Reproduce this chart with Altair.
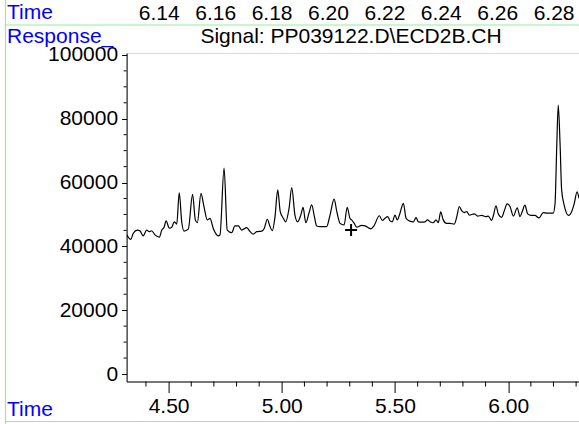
import altair as alt
import pandas as pd

# --- data ---
time_min = [4.315, 4.333, 4.344, 4.362, 4.374, 4.388, 4.403, 4.415, 4.425, 4.440,
            4.459, 4.470, 4.480, 4.489, 4.503, 4.514, 4.525, 4.536, 4.547, 4.558,
            4.568, 4.587, 4.606, 4.618, 4.627, 4.643, 4.656, 4.671, 4.683, 4.697,
            4.720, 4.727, 4.745, 4.759, 4.779, 4.793, 4.808, 4.823, 4.845, 4.860,
            4.874, 4.889, 4.911, 4.923, 4.936, 4.948, 4.958, 4.970, 4.982, 4.993,
            5.007, 5.017, 5.032, 5.044, 5.058, 5.070, 5.084, 5.094, 5.106, 5.120,
            5.132, 5.144, 5.154, 5.169, 5.183, 5.198, 5.213, 5.231, 5.243, 5.257,
            5.275, 5.289, 5.301, 5.311, 5.320, 5.331, 5.353, 5.368, 5.393, 5.407,
            5.431, 5.444, 5.456, 5.468, 5.478, 5.488, 5.500, 5.510, 5.522, 5.537,
            5.549, 5.563, 5.581, 5.593, 5.603, 5.618, 5.633, 5.643, 5.655, 5.669,
            5.681, 5.691, 5.702, 5.713, 5.728, 5.743, 5.762, 5.773, 5.784, 5.795,
            5.806, 5.817, 5.828, 5.850, 5.865, 5.883, 5.901, 5.912, 5.927, 5.934,
            5.946, 5.956, 5.971, 5.983, 5.995, 6.008, 6.023, 6.040, 6.052, 6.062,
            6.074, 6.086, 6.101, 6.118, 6.136, 6.155, 6.170, 6.185, 6.199, 6.207,
            6.214, 6.221, 6.229, 6.236, 6.247, 6.266, 6.277, 6.292, 6.304, 6.313]
response = [43600, 42200, 44100, 45100, 44800, 43300, 45100, 44600, 44900, 43600,
            42900, 45100, 46000, 48000, 45700, 46000, 47700, 47000, 56800, 47700,
            44800, 45400, 56300, 48300, 47400, 56600, 52500, 48300, 48800, 45700,
            43300, 43600, 64500, 45100, 44300, 46400, 46400, 45100, 45900, 44600,
            43800, 44600, 44800, 45700, 48500, 46200, 44900, 49300, 57700, 50900,
            48800, 47700, 51900, 58400, 49800, 47700, 49800, 52200, 47400, 50400,
            53000, 49300, 46400, 46200, 46200, 46200, 49800, 54800, 50900, 47200,
            46700, 52200, 48800, 48100, 47200, 46000, 46600, 46400, 45500, 46400,
            49600, 48100, 48800, 49300, 48000, 47700, 49800, 48300, 50400, 53500,
            48800, 48000, 47700, 49000, 47700, 47600, 47700, 48300, 47700, 47400,
            48300, 47400, 50800, 48300, 47200, 47200, 47000, 49300, 52500, 51100,
            50600, 50900, 49800, 50200, 49500, 49700, 49300, 49500, 48100, 49500,
            52700, 50200, 49100, 51200, 53300, 52500, 49500, 52100, 49300, 50900,
            52900, 50200, 49700, 49700, 48900, 50600, 50400, 50400, 50400, 53500,
            70200, 84300, 72300, 57700, 53000, 49700, 50400, 53500, 57100, 55000]

cursor_time = [5.306]
cursor_resp = [45100]

x_major = [4.5, 5.0, 5.5, 6.0]
x_minor = [4.4, 4.6, 4.7, 4.8, 4.9, 5.1, 5.2, 5.3, 5.4, 5.6, 5.7, 5.8, 5.9, 6.1, 6.2, 6.3]
y_major = [0, 20000, 40000, 60000, 80000, 100000]
y_minor = [v for v in range(0, 100001, 5000) if v % 20000 != 0]
top_ticks = [6.14, 6.16, 6.18, 6.20, 6.22, 6.24, 6.26, 6.28]

title_text = "Signal: PP039122.D\\ECD2B.CH"

FONT = "Liberation Sans"
FS = 21
W, H = 452.4, 328.5
X_DOM = [4.3145, 6.3127]
Y_DOM = [-2350, 100600]
TOP_DOM = [6.1286, 6.2890]
BLUE = "#0000ff"
GREEN = "#98ec98"

trace = pd.DataFrame({"t": time_min, "r": response})
cursor = pd.DataFrame({"t": cursor_time, "r": cursor_resp})
xminor_df = pd.DataFrame({"t": x_minor})
yminor_df = pd.DataFrame({"r": y_minor})
one = pd.DataFrame({"k": [0]})

xs = alt.Scale(domain=X_DOM, nice=False, zero=False)
ys = alt.Scale(domain=Y_DOM, nice=False, zero=False)

x_axis = alt.Axis(
    values=x_major,
    format=".2f",
    tickSize=11,
    labelOverlap=False,
    labelPadding=3,
    grid=False,
    title=None,
    domainColor="black",
    tickColor="black",
    labelColor="black",
    labelFont=FONT,
    labelFontSize=FS,
    domainWidth=1,
)
y_axis = alt.Axis(
    values=y_major,
    format="d",
    tickSize=5,
    labelOverlap=False,
    labelPadding=4,
    grid=False,
    title=None,
    domainColor="black",
    tickColor="black",
    labelColor="black",
    labelFont=FONT,
    labelFontSize=FS,
    labelBaseline="middle",
)

line = alt.Chart(trace).mark_line(
    color="black", strokeWidth=1.2, interpolate="monotone", clip=True
).encode(x=alt.X("t:Q", scale=xs, axis=x_axis), y=alt.Y("r:Q", scale=ys, axis=y_axis))

cross = alt.Chart(cursor).mark_point(
    shape="M-1,0L1,0M0,-1L0,1", size=144, strokeWidth=2, color="black", filled=False, opacity=1
).encode(x=alt.X("t:Q", scale=xs, axis=x_axis), y=alt.Y("r:Q", scale=ys, axis=y_axis))

xminor = alt.Chart(xminor_df).mark_rule(color="black", strokeWidth=1).encode(
    x=alt.X("t:Q", scale=xs, axis=x_axis), y=alt.value(H), y2=alt.value(H + 5)
)
yminor = alt.Chart(yminor_df).mark_rule(color="black", strokeWidth=1).encode(
    y=alt.Y("r:Q", scale=ys, axis=y_axis), x=alt.value(-3), x2=alt.value(0)
)

main = alt.layer(line, cross, xminor, yminor)

top_axis = alt.Chart(pd.DataFrame({"t": top_ticks})).mark_point(opacity=0).encode(
    x=alt.X(
        "t:Q",
        scale=alt.Scale(domain=TOP_DOM, nice=False, zero=False),
        axis=alt.Axis(
            orient="top",
            values=top_ticks,
            format=".2f",
            ticks=False,
            domain=False,
            labelPadding=0,
            offset=30,
            grid=False,
            title=None,
            labelColor="black",
            labelFont=FONT,
            labelFontSize=FS,
            labelOverlap=False,
        ),
    ),
    y=alt.value(0),
)


def label(txt, x, y, color, align="left"):
    return alt.Chart(one).mark_text(
        text=txt, font=FONT, fontSize=FS, color=color, align=align, baseline="middle"
    ).encode(x=alt.value(x), y=alt.value(y))


def rule(x, x2, y, y2):
    return alt.Chart(one).mark_rule(color=GREEN, strokeWidth=1.2).encode(
        x=alt.value(x), x2=alt.value(x2), y=alt.value(y), y2=alt.value(y2)
    )


decor = alt.layer(
    rule(-121.1, -121.1, -53, 371),
    rule(-121.1, W, -28, -28),
    rule(-121.1, W, 368.5, 368.5),
    label("Time", -119.6, -40, BLUE),
    label("Response_", -119.6, -16.5, BLUE),
    label("Time", -119.6, 357, BLUE),
    label(title_text, 224.4, -16.5, "black", align="center"),
)

chart = alt.layer(decor, main, top_axis).resolve_scale(x="independent").properties(
    width=W,
    height=H,
    autosize=alt.AutoSizeParams(type="none"),
    padding={"left": 126.6, "top": 53, "right": 0, "bottom": 42.5},
).configure_view(strokeWidth=0).configure(background="white")

chart.save("out.html", embed_options={"renderer": "svg", "actions": False})
